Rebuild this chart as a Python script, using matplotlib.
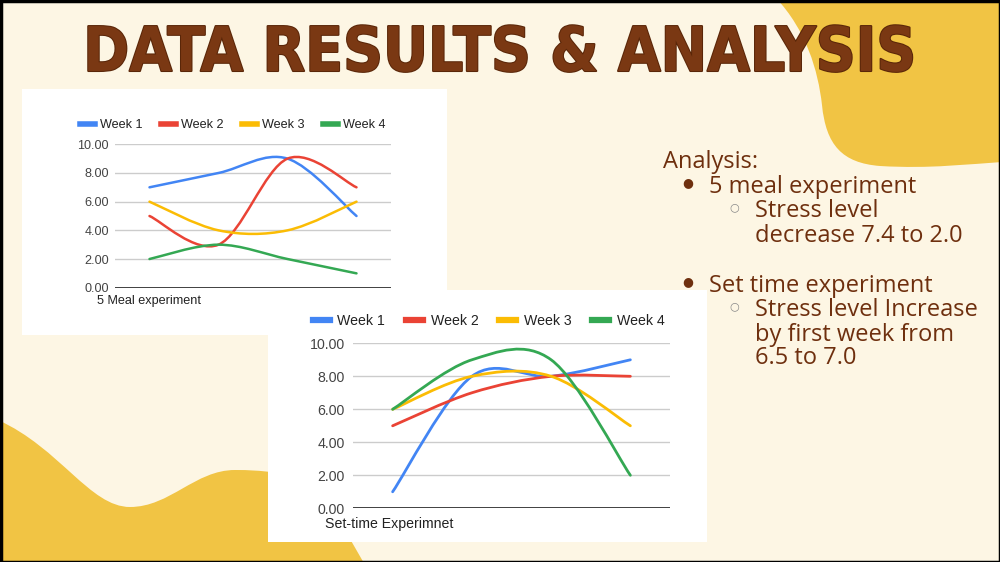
import numpy as np
import matplotlib
matplotlib.use("Agg")
import matplotlib.pyplot as plt
from matplotlib.path import Path
from matplotlib.patches import PathPatch, Rectangle
from matplotlib.lines import Line2D
import matplotlib.patheffects as pe

# ---- data ----
weeks = ["Week 1", "Week 2", "Week 3", "Week 4"]
colors = ["#4285F4", "#EA4335", "#FBBC04", "#34A853"]

meal_week1 = [7, 8, 9, 5]
meal_week2 = [5, 3, 9, 7]
meal_week3 = [6, 4, 4, 6]
meal_week4 = [2, 3, 2, 1]

set_week1 = [1, 8, 8, 9]
set_week2 = [5, 7, 8, 8]
set_week3 = [6, 8, 8, 5]
set_week4 = [6, 9, 9, 2]

y_ticks = [0, 2, 4, 6, 8, 10]

W, H = 1000, 562
CREAM = "#FDF6E4"
YELLOW = "#F1C444"
BROWN = "#6E2F0E"


def smooth_path(ys, k=1 / 6):
    # google-sheets style smoothed line: cubic bezier through the points
    pts = np.column_stack([np.arange(len(ys)), ys]).astype(float)
    n = len(pts)
    tang = np.array([pts[min(i + 1, n - 1)] - pts[max(i - 1, 0)] for i in range(n)])
    verts = [pts[0]]
    codes = [Path.MOVETO]
    for i in range(n - 1):
        verts += [pts[i] + tang[i] * k, pts[i + 1] - tang[i + 1] * k, pts[i + 1]]
        codes += [Path.CURVE4] * 3
    return Path(verts, codes)


def fig_rect(x0, y0, x1, y1):
    # pixel box (top-left origin) -> figure fraction rect
    return [x0 / W, 1 - y1 / H, (x1 - x0) / W, (y1 - y0) / H]


def draw_chart(ax, series, lw, fs, pad):
    ax.set_facecolor("none")
    for ys, c in zip(series, colors):
        ax.add_patch(PathPatch(smooth_path(ys), fill=False, edgecolor=c, lw=lw,
                               capstyle="round", joinstyle="round", zorder=3))
    ax.set_xlim(-0.5, 3.5)
    ax.set_ylim(0, 10)
    ax.set_yticks(y_ticks)
    ax.set_yticklabels([f"{v:.2f}" for v in y_ticks], fontsize=fs, color="#444444",
                       family="Liberation Sans")
    ax.tick_params(axis="y", length=0, pad=pad)
    ax.set_xticks([])
    ax.grid(axis="y", color="#cccccc", lw=1.0)
    ax.axhline(0, color="#333333", lw=1.3, zorder=2)
    for s in ax.spines.values():
        s.set_visible(False)


fig = plt.figure(figsize=(10, 5.62), dpi=100)
fig.patch.set_facecolor(CREAM)

# background layer in pixel coordinates
bg = fig.add_axes([0, 0, 1, 1], zorder=0)
bg.set_xlim(0, W)
bg.set_ylim(H, 0)
bg.axis("off")

tr = Path([(776, -2), (806, 30), (818, 70), (822, 105),
           (826, 145), (842, 163), (880, 166),
           (930, 169), (970, 164), (1002, 162),
           (1002, -2), (776, -2)],
          [Path.MOVETO, Path.CURVE4, Path.CURVE4, Path.CURVE4,
           Path.CURVE4, Path.CURVE4, Path.CURVE4,
           Path.CURVE4, Path.CURVE4, Path.CURVE4,
           Path.LINETO, Path.CLOSEPOLY])
bg.add_patch(PathPatch(tr, facecolor=YELLOW, edgecolor="none"))

bl = Path([(-2, 420), (60, 448), (90, 507), (130, 507),
           (170, 507), (195, 470), (235, 470),
           (290, 470), (320, 480), (342, 525),
           (365, 565), (-2, 565), (-2, 420)],
          [Path.MOVETO, Path.CURVE4, Path.CURVE4, Path.CURVE4,
           Path.CURVE4, Path.CURVE4, Path.CURVE4,
           Path.CURVE4, Path.CURVE4, Path.CURVE4,
           Path.LINETO, Path.LINETO, Path.CLOSEPOLY])
bg.add_patch(PathPatch(bl, facecolor=YELLOW, edgecolor="none"))

# white chart cards
bg.add_patch(Rectangle((22, 89), 425, 246, facecolor="white", edgecolor="none", zorder=2))
bg.add_patch(Rectangle((268, 290), 439, 252, facecolor="white", edgecolor="none", zorder=3))

# slide frame
bg.add_patch(Rectangle((0.5, 0.5), W - 1, H - 1, fill=False, edgecolor="black", lw=2.5, zorder=10))

# ---- title ----
title = fig.text(0.5, 1 - 71 / H, "DATA RESULTS & ANALYSIS", ha="center", va="baseline",
                 fontsize=50, fontweight="heavy", fontstretch="condensed",
                 family="DejaVu Sans", color="#7A3813",
                 path_effects=[pe.withStroke(linewidth=1.5, foreground="#5A2608")])
fig.canvas.draw()
tw = title.get_window_extent().width
title.set_fontsize(50 * 834 / tw)

# ---- chart 1: 5 meal experiment ----
ax1 = fig.add_axes(fig_rect(115, 144.3, 391, 287.7), zorder=2)
draw_chart(ax1, [meal_week1, meal_week2, meal_week3, meal_week4], lw=1.8, fs=9.1, pad=4.3)
h1 = [Line2D([], [], color=c, lw=4) for c in colors]
fig.legend(h1, weeks, loc="center", bbox_to_anchor=(233 / W, 1 - 125 / H), ncol=4,
           frameon=False, handlelength=1.2, handletextpad=0.4, columnspacing=1.45,
           prop={"family": "Liberation Sans", "size": 9.1}, labelcolor="#222222")
fig.text(97 / W, 1 - 300.7 / H, "5 Meal experiment", ha="left", va="center",
         fontsize=9.1, family="Liberation Sans", color="#222222")

# ---- chart 2: set-time experiment ----
ax2 = fig.add_axes(fig_rect(353, 343.3, 670, 508.3), zorder=4)
draw_chart(ax2, [set_week1, set_week2, set_week3, set_week4], lw=2.0, fs=10.2, pad=5.8)
h2 = [Line2D([], [], color=c, lw=4.5) for c in colors]
leg2 = fig.legend(h2, weeks, loc="center", bbox_to_anchor=(488.5 / W, 1 - 321 / H), ncol=4,
                  frameon=False, handlelength=1.2, handletextpad=0.55, columnspacing=1.45,
                  prop={"family": "Liberation Sans", "size": 10.2}, labelcolor="#222222")
leg2.set_zorder(5)
fig.text(325 / W, 1 - 524 / H, "Set-time Experimnet", ha="left", va="center",
         fontsize=10.2, family="Liberation Sans", color="#222222", zorder=5)

# ---- analysis notes ----
note_fs = 17
note_font = ["Open Sans", "DejaVu Sans"]
note_kw = dict(ha="left", va="baseline", fontsize=note_fs, family=note_font,
               fontweight="medium", color=BROWN)
fig.text(663 / W, 1 - 168 / H, "Analysis:", **note_kw)
bullets = [(183, "5 meal experiment", 193), (282, "Set time experiment", 292)]
for by, txt, base in bullets:
    fig.text(688 / W, 1 - by / H, "\u25CF", ha="center", va="center", fontsize=9,
             family="DejaVu Sans", color=BROWN)
    fig.text(709 / W, 1 - base / H, txt, **note_kw)
subs = [(207, ["Stress level", "decrease 7.4 to 2.0"], [217, 242]),
        (306, ["Stress level Increase", "by first week from", "6.5 to 7.0"], [316, 341, 364])]
for cy, lines, bases in subs:
    fig.text(734 / W, 1 - cy / H, "\u25CB", ha="center", va="center", fontsize=8,
             family="DejaVu Sans", color="#888888")
    for ln, b in zip(lines, bases):
        fig.text(755 / W, 1 - b / H, ln, **note_kw)

fig.savefig("out.png", dpi=100, facecolor=fig.get_facecolor())
